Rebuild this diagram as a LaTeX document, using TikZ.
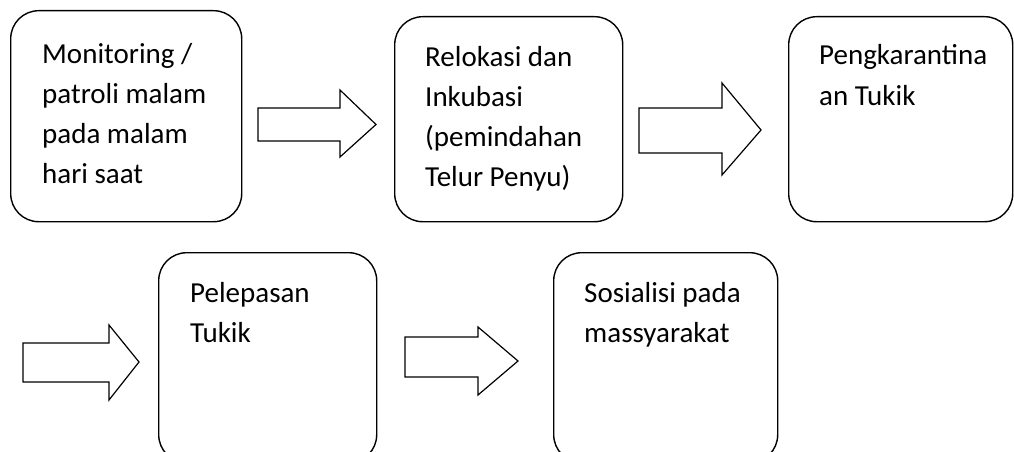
\documentclass[tikz,border=0pt]{standalone}
\usepackage{fontspec}
\setmainfont{Carlito}
\usetikzlibrary{positioning}

\begin{document}
\begin{tikzpicture}[x=1pt,y=-1pt,
    stepbox/.style={draw,line width=1.4pt,rounded corners=28pt,anchor=north west,inner sep=0pt},
    steptext/.style={anchor=base west,align=left,inner sep=0pt,font=\fontsize{29}{40}\selectfont},
    blockarr/.style={draw,line width=1.2pt,fill=white,line join=miter}]
    \useasboundingbox (0,0) rectangle (1014,452);
    \clip (0,0) rectangle (1014,452);
    % top row
    \node[stepbox,minimum width=231pt,minimum height=211pt] (monitor) at (10,10) {};
    \node[steptext] (monitortxt) at (42,183) {Monitoring /\\patroli malam\\pada malam\\hari saat};
    \node[stepbox,minimum width=228pt,minimum height=205pt] (relokasi) at (394,16) {};
    \node[steptext] (relokasitxt) at (425,186) {Relokasi dan\\Inkubasi\\(pemindahan\\Telur Penyu)};
    \node[stepbox,minimum width=224pt,minimum height=205pt] (karantina) at (788,16) {};
    \node[steptext] (karantinatxt) at (819,105) {Pengkarantina\\an Tukik};
    % bottom row
    \node[stepbox,minimum width=218pt,minimum height=210pt] (lepas) at (158,252) {};
    \node[steptext] (lepastxt) at (190,342) {Pelepasan\\Tukik};
    \node[stepbox,minimum width=224pt,minimum height=210pt] (sosial) at (553,252) {};
    \node[steptext] (sosialtxt) at (584,342) {Sosialisi pada\\massyarakat};
    % block arrows
    \draw[blockarr] (258,108) -- (340,108) -- (340,90) -- (376,124.5) -- (340,157) -- (340,141) -- (258,141) -- cycle;
    \draw[blockarr] (639,108) -- (722,108) -- (722,83) -- (761,130) -- (722,175) -- (722,153) -- (639,153) -- cycle;
    \draw[blockarr] (23,343) -- (109,343) -- (109,325) -- (139,362) -- (109,400) -- (109,382) -- (23,382) -- cycle;
    \draw[blockarr] (405,337) -- (478,337) -- (478,327) -- (518,361) -- (478,395) -- (478,377) -- (405,377) -- cycle;
\end{tikzpicture}
\end{document}
